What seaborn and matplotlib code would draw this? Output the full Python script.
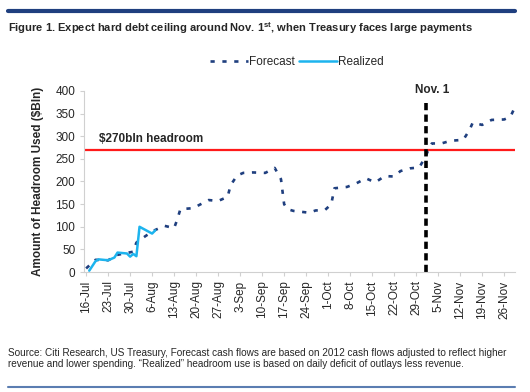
import pandas as pd
import matplotlib
matplotlib.use("Agg")
import matplotlib.pyplot as plt
import seaborn as sns

# Forecast path (dashed), $bln
forecast_dates = ["2013-07-16", "2013-07-19", "2013-07-23", "2013-07-26", "2013-07-31",
                  "2013-08-01", "2013-08-04", "2013-08-07", "2013-08-10", "2013-08-13",
                  "2013-08-14", "2013-08-15", "2013-08-19", "2013-08-24", "2013-08-27",
                  "2013-08-30", "2013-08-31", "2013-09-02", "2013-09-04", "2013-09-07",
                  "2013-09-11", "2013-09-14", "2013-09-16", "2013-09-17", "2013-09-18",
                  "2013-09-20", "2013-09-25", "2013-09-27", "2013-09-30", "2013-10-02",
                  "2013-10-03", "2013-10-07", "2013-10-10", "2013-10-13", "2013-10-16",
                  "2013-10-19", "2013-10-22", "2013-10-24", "2013-10-27", "2013-10-30",
                  "2013-11-01", "2013-11-02", "2013-11-03", "2013-11-06", "2013-11-09",
                  "2013-11-13", "2013-11-15", "2013-11-16", "2013-11-19", "2013-11-22",
                  "2013-11-26", "2013-11-28", "2013-11-29"]
forecast_vals = [8, 27, 26, 38, 45,
                 65, 80, 93, 102, 97,
                 116, 139, 141, 159, 157,
                 166, 192, 213, 219, 220,
                 219, 230, 205, 150, 139,
                 135, 131, 136, 137, 150,
                 185, 188, 196, 207, 198,
                 212, 211, 223, 229, 231,
                 255, 272, 284, 284, 290,
                 292, 314, 330, 325, 336,
                 337, 343, 358]

# Realized headroom use (solid)
realized_dates = ["2013-07-17", "2013-07-19", "2013-07-20", "2013-07-23", "2013-07-25",
                  "2013-07-26", "2013-07-29", "2013-07-30", "2013-07-31", "2013-08-01",
                  "2013-08-02", "2013-08-06", "2013-08-07"]
realized_vals = [3, 24, 28, 26, 32,
                 43, 41, 34, 40, 35,
                 100, 85, 92]

tick_labels = ["16-Jul", "23-Jul", "30-Jul", "6-Aug", "13-Aug", "20-Aug", "27-Aug",
               "3-Sep", "10-Sep", "17-Sep", "24-Sep", "1-Oct", "8-Oct", "15-Oct",
               "22-Oct", "29-Oct", "5-Nov", "12-Nov", "19-Nov", "26-Nov"]
headroom = 270
deadline = "2013-11-01"

NAVY = "#1F3F7F"
CYAN = "#1DB4EE"

sns.set_style("white")
plt.rcParams["font.family"] = ["Liberation Sans", "DejaVu Sans"]
plt.rcParams["mathtext.fontset"] = "custom"
plt.rcParams["mathtext.rm"] = "Liberation Sans:bold"

fc = pd.DataFrame({"date": pd.to_datetime(forecast_dates), "value": forecast_vals})
rz = pd.DataFrame({"date": pd.to_datetime(realized_dates), "value": realized_vals})
ticks = pd.to_datetime([t + "-2013" for t in tick_labels], format="%d-%b-%Y")

fig = plt.figure(figsize=(5.3, 3.92), dpi=100)
ax = fig.add_axes([0.158, 0.306, 0.814, 0.462])

sns.lineplot(data=fc, x="date", y="value", ax=ax, color=NAVY, lw=1.9,
             linestyle=(0, (1.6, 2.9)), label="Forecast")
sns.lineplot(data=rz, x="date", y="value", ax=ax, color=CYAN, lw=1.8, label="Realized")

ax.axhline(headroom, color="#FF1A1A", lw=1.6)
ax.text(pd.Timestamp("2013-07-20"), headroom + 10, "$270bln headroom",
        fontsize=8.5, fontweight="bold", va="bottom")

dl = pd.Timestamp(deadline)
ax.plot([dl, dl], [0, 376], color="black", lw=2.6, linestyle=(0, (2, 1.2)))
ax.text(dl + pd.Timedelta(days=2), 401, "Nov. 1", fontsize=8.5, fontweight="bold",
        ha="center", va="center")

ax.set_ylim(0, 400)
ax.set_yticks(range(0, 401, 50))
ax.set_xlim(pd.Timestamp("2013-07-15 06:00"), pd.Timestamp("2013-11-29 12:00"))
ax.set_xticks(ticks)
ax.set_xticklabels(tick_labels, rotation=90)
ax.set_xlabel("")
ax.set_ylabel("Amount of Headroom Used ($Bln)", fontsize=8.5, fontweight="bold", labelpad=8)
ax.tick_params(axis="both", labelsize=8.5, length=3, color="#D0D0D0", pad=3)
ax.tick_params(axis="y", direction="out", left=True)
ax.tick_params(axis="x", direction="out", bottom=True)
sns.despine(ax=ax)
for s in ("left", "bottom"):
    ax.spines[s].set_color("#D0D0D0")

leg = ax.legend(loc="center", bbox_to_anchor=(0.56, 0.842), bbox_transform=fig.transFigure,
                ncol=2, frameon=False, fontsize=8.5, handlelength=3.2, handletextpad=0.1,
                columnspacing=0.4)

# header / footer
fig.add_artist(plt.Line2D([0.015, 0.972], [0.972, 0.972], color=NAVY, lw=3,
                          transform=fig.transFigure))
fig.text(0.015, 0.928, r"Figure 1. Expect hard debt ceiling around Nov. 1$^{\mathrm{st}}$, when Treasury faces large payments",
         fontsize=8.0, fontweight="bold", va="center")
fig.text(0.015, 0.085, "Source: Citi Research, US Treasury, Forecast cash flows are based on 2012 cash flows adjusted to reflect higher\n"
         "revenue and lower spending. \u201cRealized\u201d headroom use is based on daily deficit of outlays less revenue.",
         fontsize=7.2, va="center", linespacing=1.15)
fig.add_artist(plt.Line2D([0.015, 0.972], [0.012, 0.012], color="#5B7DB1", lw=1.5,
                          transform=fig.transFigure))

fig.savefig("out.png", dpi=100)
